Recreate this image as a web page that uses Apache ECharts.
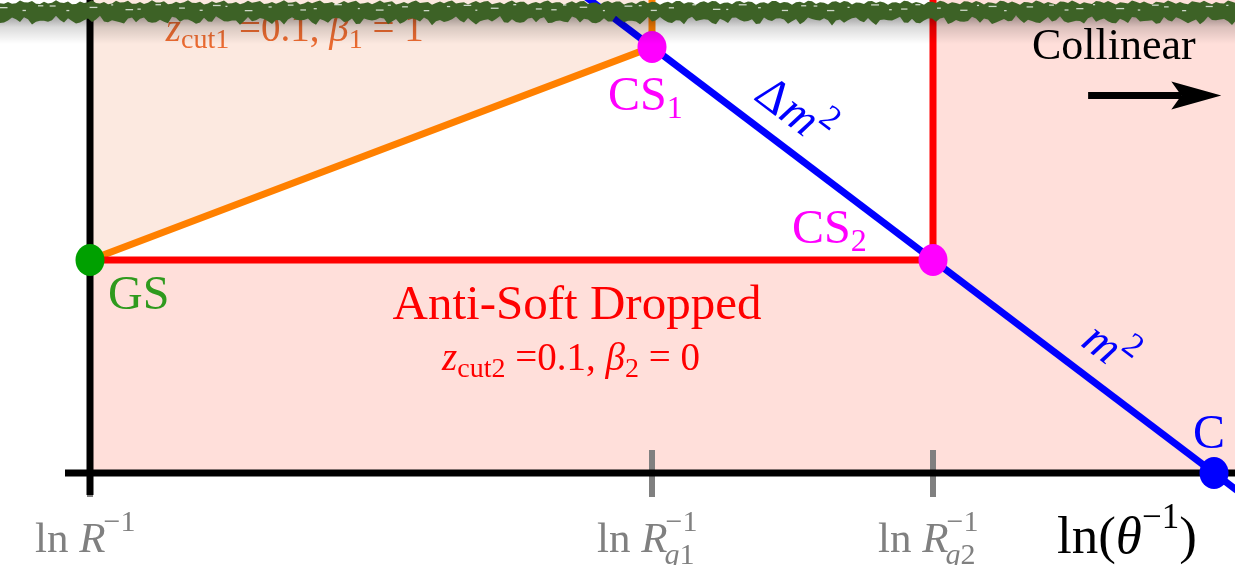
<!DOCTYPE html>
<html>
<head>
<meta charset="utf-8">
<script src="https://cdn.jsdelivr.net/npm/echarts@6/dist/echarts.min.js"></script>
<style>
  html, body { margin: 0; padding: 0; background: #ffffff; }
  #chart { width: 1235px; height: 565px; }
</style>
</head>
<body>
<div id="chart"></div>
<script>
// Lund-plane style sketch: ln(1/theta) horizontally, ln(1/z) vertically.
// Grid points (GS, CS1, CS2, C) and the boundary lines they sit on.

// ---- data ----
const tickValues = [0, 2, 3];                 // ln R^-1, ln Rg1^-1, ln Rg2^-1
const tickSubs   = ['', 'g1', 'g2'];

const pointNames = ['GS', 'CS', 'CS', 'C'];
const pointSubs  = ['', '1', '2', ''];
const pointX     = [0, 2, 3, 4];
const pointY     = [1, 2, 1, 0];

const beta0Line  = [[0, 1], [3, 1], [3, 2.4]];   // anti-soft-drop cut, beta2 = 0
const beta1Line  = [[0, 1], [2, 2], [2, 2.4]];   // soft-drop cut, beta1 = 1
const massLine   = [[1.6, 2.4], [4.2, -0.2]];    // fixed jet mass

const zcut1 = '0.1', beta1 = '1';
const zcut2 = '0.1', beta2 = '0';

// ---- view ----
const X_MIN = -90 / 281, X_MAX = 1145 / 281;
const Y_MIN = -92 / 213, Y_MAX = 473 / 213;

const antiSoftRegion = [[0, 0], [X_MAX, 0], [X_MAX, Y_MAX], [3, Y_MAX], [3, 1], [0, 1]];
const groomedRegion  = [[0, 1], [2, 2], [2, Y_MAX], [0, Y_MAX]];

const COLORS = {
  pink: '#ffdfda', peach: '#fce9e0',
  red: '#ff0000', orange: '#ff8000', blue: '#0000ff',
  magenta: '#ff00ff', green: '#00a000', greenText: '#2f9a1e',
  grey: '#808080', axis: '#000000', zText: '#ea6a30'
};
const pointColors = [COLORS.green, COLORS.magenta, COLORS.magenta, COLORS.blue];
const pointTextColors = [COLORS.greenText, COLORS.magenta, COLORS.magenta, COLORS.blue];

// ---- text helpers (runs of text sharing one baseline) ----
const FAMILY = '"Liberation Serif", "DejaVu Serif", serif';
const mctx = document.createElement('canvas').getContext('2d');
function fontOf(size, italic) { return (italic ? 'italic ' : '') + size + 'px ' + FAMILY; }
function textWidth(t, size, italic) {
  mctx.font = fontOf(size, italic);
  return mctx.measureText(t).width;
}
function baseShift(size) {
  mctx.font = fontOf(size, false);
  mctx.textBaseline = 'middle';
  return mctx.measureText('H').actualBoundingBoxDescent;
}
// runs: [{t, size, italic, dy, stack, chain}]
//   stack: start at the previous run's x (subscript under a superscript)
//   chain: continue right after the previous run, not after the widest one
function placeRuns(runs) {
  let cursor = 0, prevStart = 0, prevEnd = 0;
  return runs.map(r => {
    const w = textWidth(r.t, r.size, r.italic);
    const sx = r.stack ? prevStart : (r.chain ? prevEnd : cursor);
    prevStart = sx; prevEnd = sx + w;
    cursor = Math.max(cursor, sx + w);
    return { r: r, x: sx, w: w, end: cursor };
  });
}
function runsWidth(runs) {
  const p = placeRuns(runs);
  return p.length ? p[p.length - 1].end : 0;
}
function runsEls(runs, x0, base, color) {
  return placeRuns(runs).map(p => ({
    type: 'text',
    x: x0 + p.x + (p.r.dx || 0),
    y: base + (p.r.dy || 0) - baseShift(p.r.size),
    style: { text: p.r.t, font: fontOf(p.r.size, p.r.italic), fill: color,
             align: 'left', verticalAlign: 'middle', textAlign: 'left', textVerticalAlign: 'middle' }
  }));
}

// ---- series builders ----
function polygonSeries(points, color, z) {
  return {
    type: 'custom', coordinateSystem: 'cartesian2d', silent: true, z: z,
    data: [[0, 0]], encode: { x: 0, y: 1 },
    renderItem: (params, api) => ({
      type: 'polygon',
      shape: { points: points.map(p => api.coord(p)) },
      style: { fill: color }
    })
  };
}
function lineSeries(points, color, width, z) {
  return {
    type: 'line', data: points, symbol: 'none', silent: true, z: z,
    lineStyle: { color: color, width: width, join: 'miter', cap: 'butt' },
    animation: false
  };
}

const tickSeries = tickValues.map(v => lineSeries([[v, -24 / 213], [v, 23 / 213]], COLORS.grey, 6, 3));

const pointSeries = {
  type: 'scatter', z: 10, silent: true,
  symbol: 'circle', symbolSize: [29, 32],
  itemStyle: { opacity: 1 },
  data: pointX.map((x, i) => ({ value: [x, pointY[i]], itemStyle: { color: pointColors[i], opacity: 1 } }))
};

// label placement relative to each point (pixels: left x, baseline y)
const pointLabelOffsets = [[18, 49], [-44, 63], [-141, -17], [-21, -25]];

const annotationSeries = {
  type: 'custom', coordinateSystem: 'cartesian2d', silent: true, z: 20,
  data: [[0, 0]], encode: { x: 0, y: 1 },
  renderItem: (params, api) => {
    const kids = [];
    const BIG = 48, SUB = 32;

    // point labels
    pointNames.forEach((name, i) => {
      const p = api.coord([pointX[i], pointY[i]]);
      const o = pointLabelOffsets[i];
      const runs = [{ t: name, size: BIG }];
      if (pointSubs[i]) runs.push({ t: pointSubs[i], size: SUB, dy: 8 });
      kids.push(...runsEls(runs, p[0] + o[0], p[1] + o[1], pointTextColors[i]));
    });

    // tick labels under the axis
    tickValues.forEach((v, i) => {
      const p = api.coord([v, 0]);
      const runs = [
        { t: 'ln ', size: 43 },
        { t: 'R', size: 43, italic: true },
        { t: '\u22121', size: 30, dy: -21, dx: -2 }
      ];
      if (tickSubs[i]) runs.push({ t: tickSubs[i].charAt(0), size: 30, italic: true, dy: 12, dx: -3, stack: true },
                                 { t: tickSubs[i].slice(1), size: 30, dy: 12, dx: -3, chain: true });
      kids.push(...runsEls(runs, p[0] - 55, p[1] + 79, COLORS.grey));
    });

    // axis title
    const xt = api.coord([X_MAX, 0]);
    kids.push(...runsEls([
      { t: 'ln(', size: 53 },
      { t: '\u03b8', size: 53, italic: true },
      { t: '\u22121', size: 35, dy: -25 },
      { t: ')', size: 53 }
    ], xt[0] - 178, xt[1] + 80, COLORS.axis));

    // region labels
    const asd = api.coord([1.733, 0.723]);
    const asdRuns = [{ t: 'Anti-Soft Dropped', size: 49 }];
    kids.push(...runsEls(asdRuns, asd[0] - runsWidth(asdRuns) / 2, asd[1], COLORS.red));

    const zc2 = api.coord([1.253, 0.484]);
    kids.push(...runsEls([
      { t: 'z', size: 39, italic: true },
      { t: 'cut2', size: 28, dy: 7 },
      { t: ' =' + zcut2 + ', ', size: 39 },
      { t: '\u03b2', size: 39, italic: true },
      { t: '2', size: 28, dy: 7 },
      { t: ' = ' + beta2, size: 39 }
    ], zc2[0], zc2[1], COLORS.red));

    const zc1 = api.coord([0.27, 2.03]);
    kids.push(...runsEls([
      { t: 'z', size: 39, italic: true },
      { t: 'cut1', size: 28, dy: 7 },
      { t: ' =' + zcut1 + ', ', size: 39 },
      { t: '\u03b2', size: 39, italic: true },
      { t: '1', size: 28, dy: 7 },
      { t: ' = ' + beta1, size: 39 }
    ], zc1[0], zc1[1], COLORS.zText));

    const col = api.coord([3.352, 1.944]);
    kids.push(...runsEls([{ t: 'Collinear', size: 44 }], col[0], col[1], COLORS.axis));

    // arrow towards the collinear limit
    const a0 = api.coord([3.552, 1.772]);
    const a1 = api.coord([4.026, 1.772]);
    kids.push({
      type: 'line', shape: { x1: a0[0], y1: a0[1], x2: a1[0] - 40, y2: a1[1] },
      style: { stroke: COLORS.axis, lineWidth: 7 }
    });
    kids.push({
      type: 'polygon',
      shape: { points: [[a1[0], a1[1]], [a1[0] - 50, a1[1] - 14], [a1[0] - 40, a1[1]], [a1[0] - 50, a1[1] + 14]] },
      style: { fill: COLORS.axis }
    });

    // labels along the mass line
    const ang = -Math.atan2(213, 281);
    function along(center, runs) {
      const w = runsWidth(runs);
      const c = api.coord(center);
      return {
        type: 'group', x: c[0], y: c[1], rotation: ang,
        children: runsEls(runs, -w / 2, 13, COLORS.blue)
      };
    }
    kids.push(along([2.502, 1.690], [
      { t: '\u0394', size: 48 },
      { t: 'm', size: 48, italic: true },
      { t: '2', size: 34, dy: -21 }
    ]));
    kids.push(along([3.623, 0.577], [
      { t: 'm', size: 48, italic: true },
      { t: '2', size: 34, dy: -21 }
    ]));

    return { type: 'group', children: kids };
  }
};

// ---- torn paper edge along the top ----
function tornEdge() {
  const top = [], bottom = [];
  for (let x = 0; x <= 1240; x += 4) {
    const i = x / 4;
    top.push([x, 2.5 + 1.4 * Math.sin(i * 2.1 + 0.5) + 0.9 * Math.sin(i * 0.77)]);
    bottom.push([x, 20.5 + 2.3 * Math.sin(i * 1.7) + 1.6 * Math.sin(i * 0.63 + 2) + 1.2 * Math.sin(i * 3.9 + 1)]);
  }
  const poly = top.concat(bottom.reverse());
  const els = [
    {
      type: 'rect', z: 100, silent: true,
      shape: { x: 0, y: 16, width: 1235, height: 28 },
      style: {
        fill: new echarts.graphic.LinearGradient(0, 0, 0, 1, [
          { offset: 0, color: 'rgba(0,0,0,0.38)' },
          { offset: 0.4, color: 'rgba(0,0,0,0.14)' },
          { offset: 1, color: 'rgba(0,0,0,0)' }
        ])
      }
    },
    { type: 'polygon', z: 101, silent: true, shape: { points: poly }, style: { fill: '#3d6226' } }
  ];
  for (let k = 0; k < 70; k++) {
    const x = k * 17.7 + 5 * Math.sin(k * 1.3);
    const w = 2 + 6 * (0.5 + 0.5 * Math.sin(k * 2.7 + 1));
    const y = 4 + 6 * (0.5 + 0.5 * Math.sin(k * 1.9));
    els.push({ type: 'rect', z: 102, silent: true, shape: { x: x, y: y, width: w, height: 1.3 },
               style: { fill: 'rgba(255,255,255,0.75)' } });
  }
  return els;
}

const chart = echarts.init(document.getElementById('chart'), null, { renderer: 'canvas' });
chart.setOption({
  animation: false,
  backgroundColor: '#ffffff',
  grid: { left: 0, right: 0, top: 0, bottom: 0, containLabel: false },
  xAxis: { type: 'value', min: X_MIN, max: X_MAX, show: false },
  yAxis: { type: 'value', min: Y_MIN, max: Y_MAX, show: false },
  series: [
    polygonSeries(antiSoftRegion, COLORS.pink, 1),
    polygonSeries(groomedRegion, COLORS.peach, 1),
    ...tickSeries,
    lineSeries([[-25 / 281, 0], [X_MAX, 0]], COLORS.axis, 7, 4),
    lineSeries([[0, -22 / 213], [0, Y_MAX]], COLORS.axis, 7, 4),
    lineSeries(beta1Line, COLORS.orange, 7, 5),
    lineSeries(beta0Line, COLORS.red, 7, 5),
    lineSeries(massLine, COLORS.blue, 7, 6),
    pointSeries,
    annotationSeries
  ],
  graphic: tornEdge()
});
</script>
</body>
</html>
